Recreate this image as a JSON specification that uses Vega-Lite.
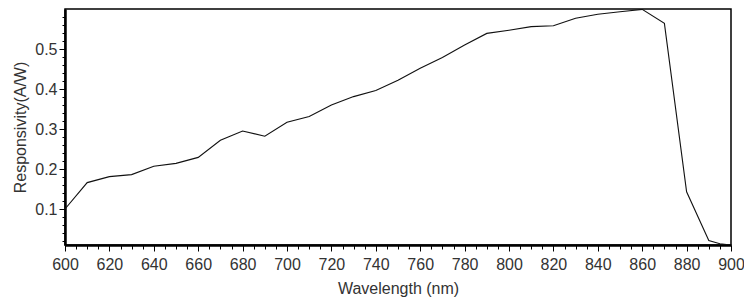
{
  "$schema": "https://vega.github.io/schema/vega-lite/v6.json",
  "width": 666,
  "height": 236,
  "autosize": {"type": "none"},
  "padding": {"left": 65, "top": 9, "right": 13, "bottom": 53},
  "background": "white",
  "config": {
    "view": {"stroke": "#000", "strokeWidth": 1.5},
    "font": "Liberation Sans",
    "axis": {
      "domainColor": "#000",
      "domainWidth": 2.5,
      "tickColor": "#000",
      "tickWidth": 1,
      "grid": false,
      "labelFont": "Liberation Sans",
      "labelFontSize": 16,
      "labelColor": "#333",
      "titleFont": "Liberation Sans",
      "titleFontSize": 16,
      "titleFontWeight": "normal",
      "titleColor": "#333"
    }
  },
  "data": {
    "values": [
      {"wl": 600, "r": 0.100},
      {"wl": 610, "r": 0.166},
      {"wl": 620, "r": 0.181},
      {"wl": 630, "r": 0.186},
      {"wl": 640, "r": 0.207},
      {"wl": 650, "r": 0.214},
      {"wl": 660, "r": 0.229},
      {"wl": 670, "r": 0.272},
      {"wl": 680, "r": 0.295},
      {"wl": 690, "r": 0.282},
      {"wl": 700, "r": 0.317},
      {"wl": 710, "r": 0.331},
      {"wl": 720, "r": 0.360},
      {"wl": 730, "r": 0.381},
      {"wl": 740, "r": 0.396},
      {"wl": 750, "r": 0.422},
      {"wl": 760, "r": 0.452},
      {"wl": 770, "r": 0.479},
      {"wl": 780, "r": 0.510},
      {"wl": 790, "r": 0.539},
      {"wl": 800, "r": 0.547},
      {"wl": 810, "r": 0.556},
      {"wl": 820, "r": 0.558},
      {"wl": 830, "r": 0.577},
      {"wl": 840, "r": 0.587},
      {"wl": 850, "r": 0.593},
      {"wl": 860, "r": 0.599},
      {"wl": 870, "r": 0.564},
      {"wl": 880, "r": 0.143},
      {"wl": 890, "r": 0.021},
      {"wl": 895, "r": 0.013},
      {"wl": 900, "r": 0.010}
    ]
  },
  "mark": {"type": "line", "color": "#111", "strokeWidth": 1.1, "clip": true},
  "encoding": {
    "x": {
      "field": "wl",
      "type": "quantitative",
      "scale": {"domain": [600, 900], "nice": false, "zero": false},
      "axis": {
        "title": "Wavelength (nm)",
        "values": [600,605,610,615,620,625,630,635,640,645,650,655,660,665,670,675,680,685,690,695,700,705,710,715,720,725,730,735,740,745,750,755,760,765,770,775,780,785,790,795,800,805,810,815,820,825,830,835,840,845,850,855,860,865,870,875,880,885,890,895,900],
        "labelExpr": "datum.value % 20 === 0 ? datum.label : ''",
        "tickSize": {"condition": {"test": "datum.value % 20 === 0", "value": 6}, "value": 4},
        "labelPadding": 5,
        "titlePadding": 8,
        "labelFlush": false,
        "labelOverlap": false
      }
    },
    "y": {
      "field": "r",
      "type": "quantitative",
      "scale": {"domain": [0.01, 0.6], "nice": false, "zero": false},
      "axis": {
        "title": "Responsivity(A/W)",
        "values": [0.02,0.04,0.06,0.08,0.1,0.12,0.14,0.16,0.18,0.2,0.22,0.24,0.26,0.28,0.3,0.32,0.34,0.36,0.38,0.4,0.42,0.44,0.46,0.48,0.5,0.52,0.54,0.56,0.58],
        "labelExpr": "abs(round(datum.value*10) - datum.value*10) < 0.000001 ? format(datum.value, '.1f') : ''",
        "tickSize": {"condition": {"test": "abs(round(datum.value*10) - datum.value*10) < 0.000001", "value": 6}, "value": 3},
        "labelPadding": 2,
        "titlePadding": 6,
        "labelOverlap": false,
        "labelFlush": false
      }
    }
  }
}
